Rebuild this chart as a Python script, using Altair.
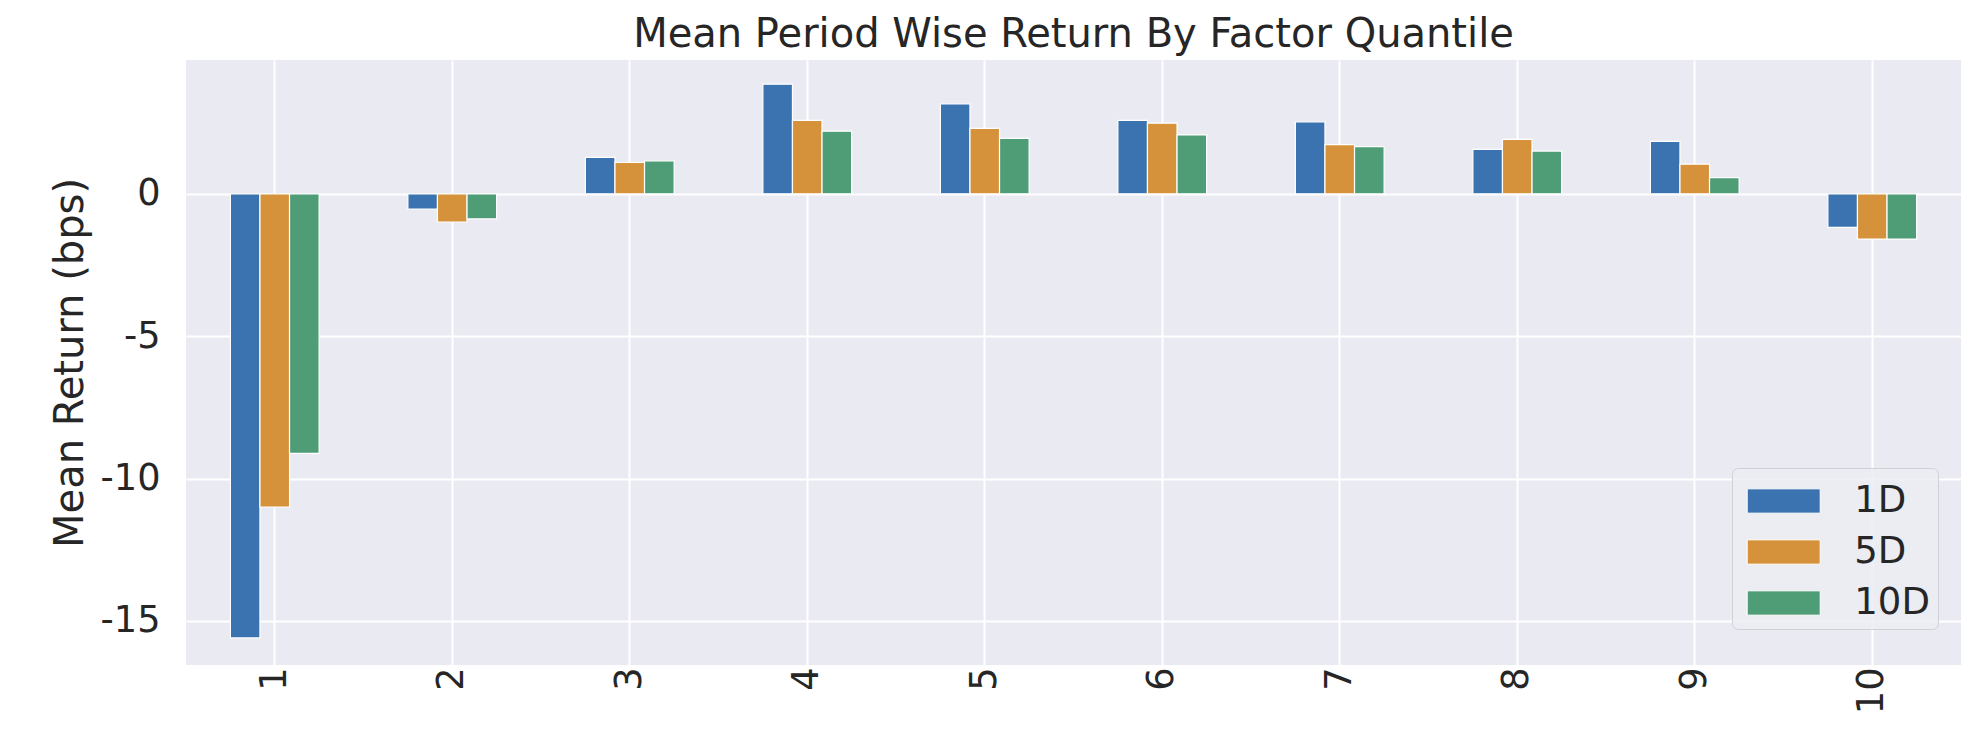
import altair as alt
import pandas as pd

quantiles = ["1", "2", "3", "4", "5", "6", "7", "8", "9", "10"]
periods = ["1D", "5D", "10D"]
ret_1d = [-15.6, -0.54, 1.28, 3.85, 3.16, 2.58, 2.53, 1.56, 1.84, -1.18]
ret_5d = [-11.0, -0.99, 1.10, 2.58, 2.30, 2.48, 1.73, 1.91, 1.04, -1.59]
ret_10d = [-9.12, -0.88, 1.16, 2.20, 1.95, 2.07, 1.66, 1.50, 0.57, -1.59]
colors = ["#3A73B0", "#D5923A", "#4F9D77"]
y_ticks = [-15, -10, -5, 0]

rows = []
for p, vals in zip(periods, [ret_1d, ret_5d, ret_10d]):
    for q, v in zip(quantiles, vals):
        rows.append({"quantile": q, "period": p, "ret": v})
df = pd.DataFrame(rows)

FONT = "DejaVu Sans"
TXT = "#262626"

chart = (
    alt.Chart(df)
    .mark_bar(stroke="white", strokeWidth=1.2)
    .encode(
        x=alt.X(
            "quantile:N",
            sort=quantiles,
            scale=alt.Scale(paddingInner=0.5, paddingOuter=0.25),
            axis=alt.Axis(
                title=None,
                labelAngle=-90,
                bandPosition=0.5,
                labelFontSize=36.7,
                labelFont=FONT,
                labelColor=TXT,
                labelPadding=2,
                ticks=False,
                domain=False,
                grid=True,
                gridColor="white",
                gridWidth=2,
            ),
        ),
        xOffset=alt.XOffset("period:N", sort=periods),
        y=alt.Y(
            "ret:Q",
            scale=alt.Scale(domain=[-16.55, 4.7], nice=False, zero=False),
            axis=alt.Axis(
                title="Mean Return (bps)",
                titleFontSize=40,
                titleFont=FONT,
                titleFontWeight="normal",
                titleColor=TXT,
                titlePadding=10,
                values=y_ticks,
                labelExpr="datum.value + ''",
                labelFontSize=36.7,
                labelFont=FONT,
                labelColor=TXT,
                labelPadding=26,
                ticks=False,
                domain=False,
                grid=True,
                gridColor="white",
                gridWidth=2,
            ),
        ),
        color=alt.Color(
            "period:N",
            sort=periods,
            scale=alt.Scale(domain=periods, range=colors),
            legend=alt.Legend(
                title=None,
                orient="none",
                legendX=1546,
                legendY=408,
                symbolType="M-1.5,-0.5H1.5V0.5H-1.5Z",
                symbolSize=2370,
                symbolStrokeColor="white",
                symbolStrokeWidth=1,
                symbolOpacity=1,
                symbolOffset=18.7,
                labelOffset=45.6,
                labelFontSize=37,
                labelFont=FONT,
                labelColor=TXT,
                padding=8,
                rowPadding=8,
                cornerRadius=6,
                strokeColor="#d0d0d6",
                fillColor="rgba(236,236,243,0.85)",
            ),
        ),
    )
    .properties(
        width=1775,
        height=605,
        title=alt.Title(
            "Mean Period Wise Return By Factor Quantile",
            fontSize=40,
            font=FONT,
            fontWeight="normal",
            color=TXT,
            frame="group",
            anchor="middle",
            offset=5,
        ),
        autosize=alt.AutoSizeParams(type="none"),
        padding={"left": 178, "top": 52, "right": 5, "bottom": 80},
    )
    .configure_view(fill="#EAEAF2", stroke=None)
)

chart.save("out.html", embed_options={"renderer": "svg", "actions": False})
